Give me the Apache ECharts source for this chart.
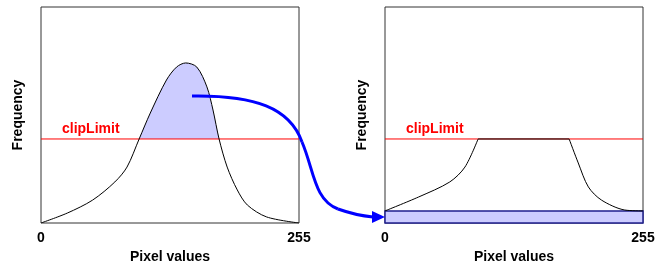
<!DOCTYPE html>
<html>
<head>
<meta charset="utf-8">
<script src="https://cdn.jsdelivr.net/npm/echarts@6/dist/echarts.min.js"></script>
<style>
html,body{margin:0;padding:0;background:#fff;}
#main{width:670px;height:263px;}
</style>
</head>
<body>
<div id="main"></div>
<script>
// histogram before clipping: [pixel value, frequency]
var histBefore = [[0,0],[26,4.6],[51,10.6],[73,19],[85,25.9],[97,38.9],[108,50.9],[124,66.2],[134,72.2],[143,74.1],[154,72.2],[164,63],[170,52.3],[176,38.9],[184,25.9],[194,15.3],[204,8.3],[223,2.8],[255,0]];
// part of the histogram above the clip limit (shaded)
var excess = [[97,38.9],[108,50.9],[124,66.2],[134,72.2],[143,74.1],[154,72.2],[164,63],[170,52.3],[176,38.9]];
// histogram after clipping + redistribution
var afterRise = [[0,5.6],[33,12],[64,19],[79,25.9],[92,38.9]];
var afterFlat = [[92,38.9],[182,38.9]];
var afterFall = [[182,38.9],[191,27.8],[201,16.7],[214,10.6],[237,6],[255,5.6]];
var clipLimit = 38.9;
var redistributed = 5.6;

var font = 'Arial, "Liberation Sans", sans-serif';
var lightBlue = '#ccccff';

function xAx(i){
	return {
		type:'value', gridIndex:i, min:0, max:255, interval:255,
		axisLine:{show:false}, axisTick:{show:false}, splitLine:{show:false},
		axisLabel:{color:'#000', fontWeight:'bold', fontSize:14, fontFamily:font, margin:8},
		name:'Pixel values', nameLocation:'middle', nameGap:23,
		nameTextStyle:{color:'#000', fontWeight:'bold', fontSize:14, fontFamily:font}
	};
}
function yAx(i){
	return {
		type:'value', gridIndex:i, min:0, max:100,
		axisLine:{show:false}, axisTick:{show:false}, splitLine:{show:false}, axisLabel:{show:false},
		name:'Frequency', nameLocation:'middle', nameGap:16,
		nameTextStyle:{color:'#000', fontWeight:'bold', fontSize:14, fontFamily:font}
	};
}
// red clip limit line with its label at the left end
function clipSeries(i){
	return {
		type:'line', xAxisIndex:i, yAxisIndex:i, z:2, silent:true,
		symbol:'circle', symbolSize:0, showSymbol:true,
		lineStyle:{color:'#ff0000', width:1},
		itemStyle:{color:'#ff0000'},
		data:[
			{value:[0, clipLimit], label:{show:true, formatter:'clipLimit', position:'top', align:'left',
				offset:[21, 0], distance:3, color:'#ff0000', fontWeight:'bold', fontSize:14, fontFamily:font}},
			[255, clipLimit]
		]
	};
}
var blackLine = {color:'#000', width:1};
var arrowStyle = {stroke:'#0000ff', lineWidth:3, fill:null};

var chart = echarts.init(document.getElementById('main'));
var option = {
	animation:false,
	grid:[
		{left:41, top:7, width:258, height:216, show:true, borderColor:'#333', borderWidth:1, outerBoundsMode:'none'},
		{left:385, top:7, width:258, height:216, show:true, borderColor:'#333', borderWidth:1, outerBoundsMode:'none'}
	],
	xAxis:[xAx(0), xAx(1)],
	yAxis:[yAx(0), yAx(1)],
	series:[
		{
			type:'line', xAxisIndex:0, yAxisIndex:0, data:excess, smooth:0.3, symbol:'none', z:1,
			lineStyle:{opacity:0}, areaStyle:{color:lightBlue, opacity:1, origin:clipLimit}
		},
		clipSeries(0),
		{type:'line', xAxisIndex:0, yAxisIndex:0, data:histBefore, smooth:0.3, symbol:'none', z:3, lineStyle:blackLine},
		{
			type:'line', xAxisIndex:1, yAxisIndex:1, data:[], symbol:'none', z:1,
			markArea:{silent:true, itemStyle:{color:lightBlue, borderColor:'#1f1f8f', borderWidth:1.5},
				data:[[{yAxis:0},{yAxis:redistributed}]]}
		},
		clipSeries(1),
		{type:'line', xAxisIndex:1, yAxisIndex:1, data:afterRise, smooth:0.3, symbol:'none', z:3, lineStyle:blackLine},
		{type:'line', xAxisIndex:1, yAxisIndex:1, data:afterFlat, symbol:'none', z:3, lineStyle:blackLine},
		{type:'line', xAxisIndex:1, yAxisIndex:1, data:afterFall, smooth:0.3, symbol:'none', z:3, lineStyle:blackLine}
	],
	graphic:[
		{type:'bezierCurve', z:10, shape:{x1:192, y1:96, cpx1:255, cpy1:95, cpx2:290, cpy2:108, x2:302, y2:142}, style:arrowStyle},
		{type:'bezierCurve', z:10, shape:{x1:302, y1:142, cpx1:314, cpy1:170, cpx2:314, cpy2:200, x2:338, y2:209}, style:arrowStyle},
		{type:'bezierCurve', z:10, shape:{x1:338, y1:209, cpx1:352, cpy1:214, cpx2:362, cpy2:216, x2:373, y2:217}, style:arrowStyle},
		{type:'polygon', z:10, shape:{points:[[385,217],[372,211],[372,223]]}, style:{fill:'#0000ff'}}
	]
};
chart.setOption(option);
</script>
</body>
</html>
